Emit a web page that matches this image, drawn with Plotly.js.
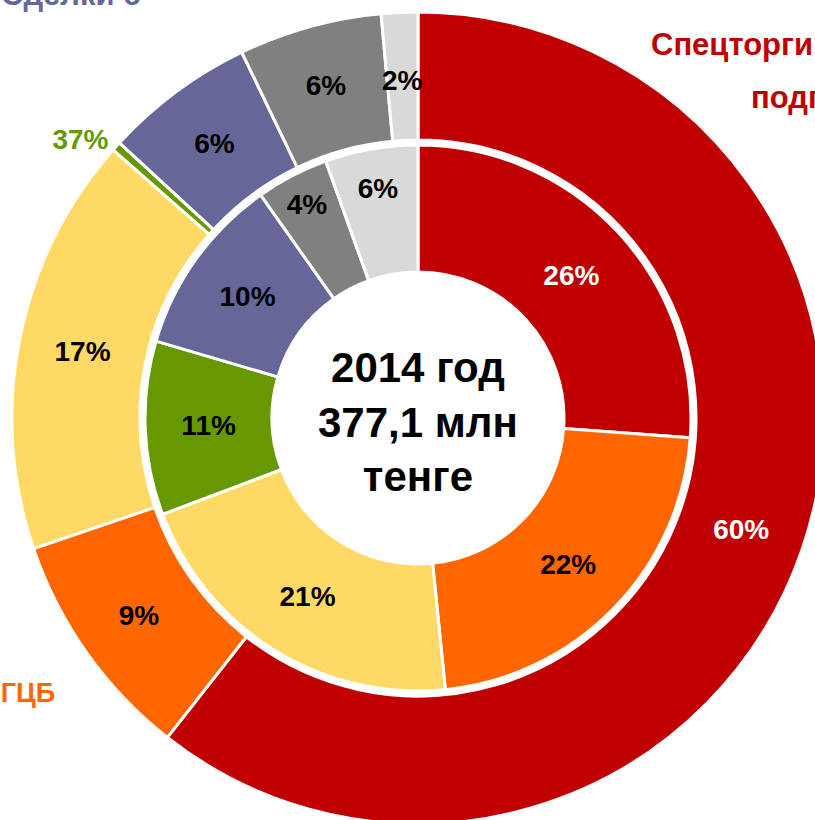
<!DOCTYPE html>
<html>
<head>
<meta charset="utf-8">
<script src="https://cdn.plot.ly/plotly-3.0.1.min.js"></script>
<style>
html,body{margin:0;padding:0;width:815px;height:820px;overflow:hidden;background:#fff;}
#wrap{position:absolute;left:0;top:0;width:815px;height:820px;overflow:hidden;}
#chart{position:absolute;left:-182px;top:-182px;width:1200px;height:1200px;}
</style>
</head>
<body>
<div id="wrap"><div id="chart"></div></div>
<script>
// Outer ring (clockwise from 12 o'clock)
const outerLabels = ['Спецторги', 'ГЦБ', 'Прочие 1', 'Прочие 2', 'Сделки', 'Прочие 3', 'Прочие 4'];
const outerValues = [60.6, 9.2, 16.7, 0.37, 6.0, 5.7, 1.45];
const outerText = ['60%', '9%', '17%', '37%', '6%', '6%', '2%'];

// Inner ring (clockwise from 12 o'clock)
const innerLabels = ['Спецторги', 'ГЦБ', 'Прочие 1', 'Прочие 2', 'Сделки', 'Прочие 3', 'Прочие 4'];
const innerValues = [26.2, 22.3, 20.9, 10.3, 10.7, 4.3, 5.5];
const innerText = ['26%', '22%', '21%', '11%', '10%', '4%', '6%'];

const colors = ['#C00000', '#FF6600', '#FFD966', '#669900', '#666699', '#808080', '#D9D9D9'];
const outerTextColors = ['#FFFFFF', '#000000', '#000000', '#669900', '#000000', '#000000', '#000000'];
const innerTextColors = ['#FFFFFF', '#000000', '#000000', '#000000', '#000000', '#000000', '#000000'];

const centerLines = ['2014 год', '377,1 млн', 'тенге'];

const FONT = '"Liberation Sans", Arial, sans-serif';
const LBL = 28;

const W = 1200, OFF = 182;
function px(x){ return (x + OFF) / W; }
function py(y){ return 1 - (y + OFF) / W; }

const cx = 418, cy = 418, rOut = 406, rIn = 273, holeOut = 278;

// the narrow outer slice label (index 6) is placed as an annotation at its mid-angle
// so that it keeps full size (as in the reference), computed from the data
const smallIdx = 6;
const totalOut = outerValues.reduce((a, b) => a + b, 0);
const before = outerValues.slice(0, smallIdx).reduce((a, b) => a + b, 0);
const midAng = (before + outerValues[smallIdx] / 2) / totalOut * 2 * Math.PI;
const rMid = (rOut + holeOut) / 2 - 4;
const smallX = cx + rMid * Math.sin(midAng);
const smallY = cy - rMid * Math.cos(midAng);

const outerShownText = outerText.map((t, i) => i === smallIdx ? '' : t);

const outer = {
  type: 'pie',
  labels: outerLabels,
  values: outerValues,
  text: outerShownText,
  texttemplate: '%{text}',
  textinfo: 'text',
  textposition: ['inside','inside','inside','outside','inside','inside','none'],
  insidetextorientation: 'horizontal',
  sort: false,
  direction: 'clockwise',
  rotation: 0,
  hole: holeOut / rOut,
  domain: {x: [px(cx - rOut), px(cx + rOut)], y: [py(cy + rOut), py(cy - rOut)]},
  marker: {colors: colors, line: {color: '#FFFFFF', width: 3}},
  textfont: {family: FONT, size: LBL, weight: 'bold', color: outerTextColors},
  outsidetextfont: {family: FONT, size: LBL, weight: 'bold', color: outerTextColors},
  insidetextfont: {family: FONT, size: LBL, weight: 'bold', color: outerTextColors},
  hoverinfo: 'none',
  showlegend: false
};

const inner = {
  type: 'pie',
  labels: innerLabels,
  values: innerValues,
  text: innerText,
  texttemplate: '%{text}',
  textinfo: 'text',
  textposition: 'inside',
  insidetextorientation: 'horizontal',
  sort: false,
  direction: 'clockwise',
  rotation: 0,
  hole: 146 / rIn,
  domain: {x: [px(cx - rIn), px(cx + rIn)], y: [py(cy + rIn), py(cy - rIn)]},
  marker: {colors: colors, line: {color: '#FFFFFF', width: 3}},
  textfont: {family: FONT, size: LBL, weight: 'bold', color: innerTextColors},
  insidetextfont: {family: FONT, size: LBL, weight: 'bold', color: innerTextColors},
  hoverinfo: 'none',
  showlegend: false
};

const annotations = [
  {text: centerLines.join('<br>'), x: px(cx), y: py(cy + 4), xref: 'paper', yref: 'paper',
   showarrow: false, xanchor: 'center', yanchor: 'middle',
   font: {family: FONT, size: 42, weight: 'bold', color: '#000000'}},
  {text: outerText[smallIdx], x: px(smallX), y: py(smallY), xref: 'paper', yref: 'paper',
   showarrow: false, xanchor: 'center', yanchor: 'middle',
   font: {family: FONT, size: LBL, weight: 'bold', color: outerTextColors[smallIdx]}},
  {text: 'Спецторги и', x: px(649), y: py(44), xref: 'paper', yref: 'paper', showarrow: false,
   xanchor: 'left', yanchor: 'middle', font: {family: FONT, size: 31, weight: 'bold', color: '#C00000'}},
  {text: 'подготовка', x: px(749), y: py(97), xref: 'paper', yref: 'paper', showarrow: false,
   xanchor: 'left', yanchor: 'middle', font: {family: FONT, size: 31, weight: 'bold', color: '#C00000'}},
  {text: 'АО ГЦБ', x: px(57), y: py(693), xref: 'paper', yref: 'paper', showarrow: false,
   xanchor: 'right', yanchor: 'middle', font: {family: FONT, size: 27, weight: 'bold', color: '#FF6600'}},
  {text: 'Сделки с', x: px(142), y: py(-6), xref: 'paper', yref: 'paper', showarrow: false,
   xanchor: 'right', yanchor: 'middle', font: {family: FONT, size: 31, weight: 'bold', color: '#666699'}}
];

const layout = {
  width: W, height: W,
  margin: {l: 0, r: 0, t: 0, b: 0, pad: 0},
  paper_bgcolor: '#FFFFFF',
  plot_bgcolor: '#FFFFFF',
  showlegend: false,
  annotations: annotations
};

Plotly.newPlot('chart', [outer, inner], layout, {displayModeBar: false, staticPlot: true});
</script>
</body>
</html>
